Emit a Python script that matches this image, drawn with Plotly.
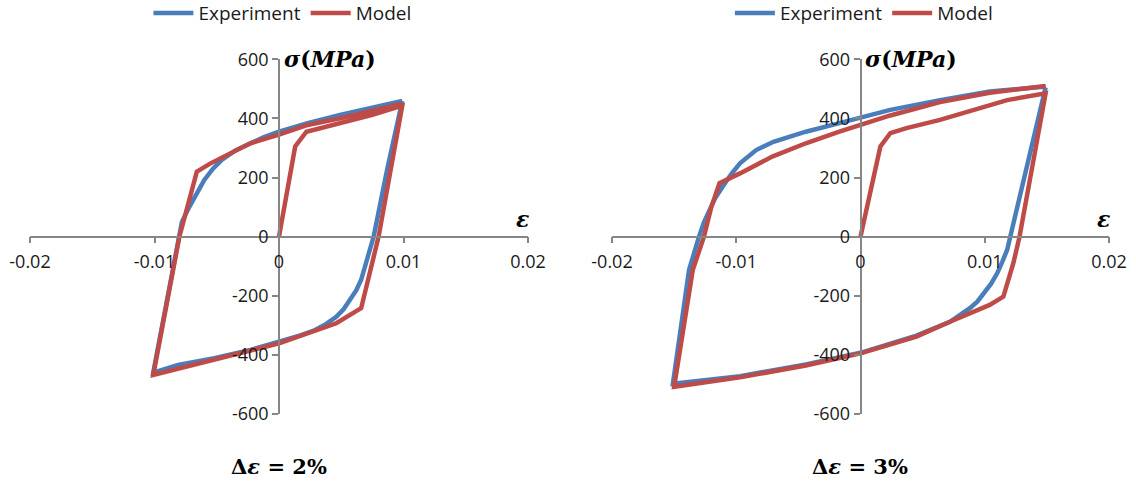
import plotly.graph_objects as go

# ---------------- data ----------------
# Delta eps = 2 %
exp2_strain = [0.0099, 0.0087, 0.0076, 0.0074, 0.0072, 0.0069, 0.0066, 0.0062, 0.0057, 0.0052,
               0.0046, 0.0038, 0.0029, 0.0015, 0.0, -0.0023, -0.0052, -0.0081, -0.0101,
               -0.0091, -0.0081, -0.0078, -0.0072, -0.0066, -0.0060, -0.0053, -0.0046,
               -0.0035, -0.0023, -0.0012, 0.0, 0.0023, 0.0049, 0.0075, 0.0099]
exp2_stress = [459, 230, 0, -30, -68, -110, -146, -182, -214, -245,
               -271, -295, -316, -337, -355, -383, -411, -434, -460,
               -230, 0, 50, 101, 150, 192, 230, 260,
               292, 316, 337, 355, 384, 412, 437, 459]

mod2_strain = [0.0, 0.0013, 0.0022, 0.0049, 0.0075, 0.0099, 0.0080, 0.0066, 0.0046, 0.0,
               -0.0050, -0.0101, -0.0080, -0.0066, -0.0055, -0.0035, -0.0023, 0.0,
               0.0023, 0.0049, 0.0099]
mod2_stress = [0, 305, 355, 384, 412, 443, 0, -242, -293, -361,
               -415, -468, 0, 220, 248, 288, 316, 345,
               378, 400, 450]

# Delta eps = 3 %
exp3_strain = [0.0149, 0.0121, 0.0118, 0.0114, 0.0110, 0.0105, 0.0099, 0.0094, 0.0088, 0.0080,
               0.0072, 0.0045, 0.0018, 0.0, -0.0044, -0.0097, -0.0151, -0.0138, -0.0130,
               -0.0126, -0.01215, -0.0117, -0.0111, -0.0104, -0.0097, -0.0084, -0.0070,
               -0.0044, -0.0017, 0.0, 0.0024, 0.0064, 0.0104, 0.0149]
exp3_stress = [505, 0, -45, -86, -124, -160, -192, -220, -242, -266,
               -288, -335, -369, -393, -432, -472, -498, -113, 0,
               48, 90, 130, 169, 212, 248, 293, 321,
               355, 384, 404, 429, 462, 491, 508]

mod3_strain = [0.0, 0.0016, 0.0024, 0.0037, 0.0064, 0.0091, 0.0118, 0.0149, 0.0128, 0.0123,
               0.0115, 0.0104, 0.0086, 0.0072, 0.0045, 0.0018, 0.0, -0.0044, -0.0097,
               -0.0150, -0.0135, -0.0126, -0.0120, -0.01135, -0.0097, -0.0071, -0.0044,
               -0.0017, 0.0, 0.0024, 0.0064, 0.0104, 0.0149]
mod3_stress = [0, 305, 350, 367, 395, 429, 462, 485, 0, -90,
               -203, -231, -265, -288, -338, -372, -395, -436, -476,
               -508, -113, 0, 101, 181, 214, 271, 316,
               355, 378, 410, 455, 487, 510]

x_ticks = [-0.02, -0.01, 0, 0.01, 0.02]
x_tick_text = ["-0.02", "-0.01", "0", "0.01", "0.02"]
y_ticks = [-600, -400, -200, 0, 200, 400, 600]
y_tick_text = ["-600", "-400", "-200", "0", "200", "400", "600"]

panel_titles = ["<b>Δ<i>ε</i> = 2%</b>", "<b>Δ<i>ε</i> = 3%</b>"]

BLUE = "#4A7EBB"
RED = "#BE4B48"
AXIS = "#868686"
TICKFONT = dict(family="Open Sans", size=18, color="#1a1a1a")

fig = go.Figure()

# left panel
fig.add_trace(go.Scatter(x=exp2_strain, y=exp2_stress, mode="lines", name="Experiment",
                         line=dict(color=BLUE, width=4.5), xaxis="x", yaxis="y",
                         legend="legend"))
fig.add_trace(go.Scatter(x=mod2_strain, y=mod2_stress, mode="lines", name="Model",
                         line=dict(color=RED, width=4.5), xaxis="x", yaxis="y",
                         legend="legend"))
# right panel
fig.add_trace(go.Scatter(x=exp3_strain, y=exp3_stress, mode="lines", name="Experiment",
                         line=dict(color=BLUE, width=4.5), xaxis="x2", yaxis="y2",
                         legend="legend2"))
fig.add_trace(go.Scatter(x=mod3_strain, y=mod3_stress, mode="lines", name="Model",
                         line=dict(color=RED, width=4.5), xaxis="x2", yaxis="y2",
                         legend="legend2"))

W, H = 1136, 484
ydom = [1 - 414 / H, 1 - 59.3 / H]
xdom1 = [30 / W, 528 / W]
xdom2 = [612 / W, 1109 / W]
ymid = (ydom[0] + ydom[1]) / 2


def xaxis_cfg(dom):
    return dict(domain=dom, range=[-0.02, 0.02], anchor="free", position=ymid,
                showline=True, linecolor=AXIS, linewidth=1.5, showgrid=False,
                zeroline=False, ticks="outside", ticklen=6, tickcolor=AXIS,
                tickwidth=1.5, tickvals=x_ticks, ticktext=x_tick_text,
                tickfont=TICKFONT, ticklabelstandoff=3, fixedrange=True)


def yaxis_cfg(pos):
    return dict(domain=ydom, range=[-600, 600], anchor="free", position=pos,
                showline=True, linecolor=AXIS, linewidth=1.5, showgrid=False,
                zeroline=False, ticks="outside", ticklen=6, tickcolor=AXIS,
                tickwidth=1.5, tickvals=y_ticks, ticktext=y_tick_text,
                tickfont=TICKFONT, side="left", fixedrange=True)


legend_common = dict(orientation="h", yanchor="top", y=1.012, xanchor="center",
                     font=dict(family="Open Sans", size=19, color="#1a1a1a"),
                     bgcolor="rgba(0,0,0,0)", itemwidth=40)

fig.update_layout(
    width=W, height=H,
    margin=dict(l=0, r=0, t=0, b=0, autoexpand=False),
    paper_bgcolor="white", plot_bgcolor="white",
    xaxis=xaxis_cfg(xdom1),
    yaxis=yaxis_cfg((xdom1[0] + xdom1[1]) / 2),
    xaxis2=xaxis_cfg(xdom2),
    yaxis2=yaxis_cfg((xdom2[0] + xdom2[1]) / 2),
    legend=dict(legend_common, x=(xdom1[0] + xdom1[1]) / 2 + 0.003),
    legend2=dict(legend_common, x=(xdom2[0] + xdom2[1]) / 2 + 0.003),
)

SERIF = "DejaVu Serif"
annotations = []
for i, (xr, yr) in enumerate([("x", "y"), ("x2", "y2")]):
    annotations.append(dict(x=0, y=600, xref=xr, yref=yr, xanchor="left", yanchor="middle",
                            xshift=3, showarrow=False,
                            text="<b><i>σ</i>(<i>MPa</i>)</b>",
                            font=dict(family=SERIF, size=22, color="black")))
    annotations.append(dict(x=0.02, y=0, xref=xr, yref=yr, xanchor="center", yanchor="bottom",
                            xshift=-6, yshift=3, showarrow=False,
                            text="<b><i>ε</i></b>",
                            font=dict(family=SERIF, size=22, color="black")))
    annotations.append(dict(x=0, y=1 - 466.7 / H, xref=xr, yref="paper",
                            xanchor="center", yanchor="middle", showarrow=False,
                            text=panel_titles[i],
                            font=dict(family=SERIF, size=21, color="black")))
fig.update_layout(annotations=annotations)

fig.write_html("out.html", config={"displayModeBar": False},
               post_script="document.body.style.margin='0px';document.body.style.padding='0px';")
